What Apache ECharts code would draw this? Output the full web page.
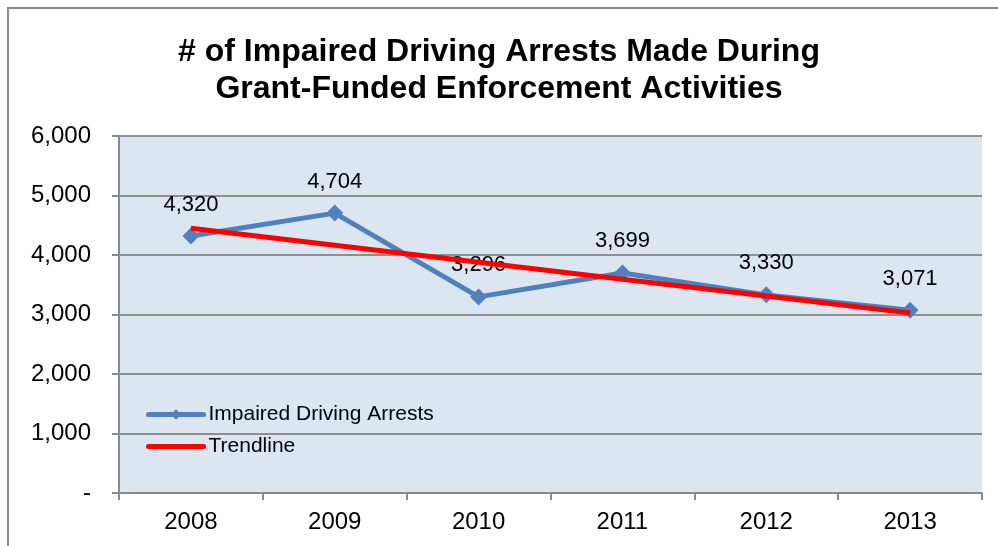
<!DOCTYPE html>
<html>
<head>
<meta charset="utf-8">
<script src="https://cdn.jsdelivr.net/npm/echarts@6/dist/echarts.min.js"></script>
<style>
  html, body { margin: 0; padding: 0; background: #fff; }
  #chart { width: 998px; height: 546px; }
</style>
</head>
<body>
<div id="chart"></div>
<script>
// Years on the category axis
const years = ['2008', '2009', '2010', '2011', '2012', '2013'];
// Impaired driving arrests per year
const arrests = [4320, 4704, 3296, 3699, 3330, 3071];
// Linear trend values at each year
const trend = [4448, 4164, 3879, 3594, 3310, 3025];
// Value axis ticks
const yTicks = [0, 1000, 2000, 3000, 4000, 5000, 6000];

const FONT = '"Liberation Sans", Arial, sans-serif';
const fmt = v => (v === 0 ? '-' : v.toLocaleString('en-US'));

const chart = echarts.init(document.getElementById('chart'), null, { renderer: 'canvas' });

chart.setOption({
  animation: false,
  backgroundColor: '#ffffff',
  textStyle: { fontFamily: FONT },
  graphic: [{
    type: 'rect',
    shape: { x: 8, y: 8, width: 1000, height: 560 },
    style: { fill: 'none', stroke: '#8a8a8a', lineWidth: 2 },
    silent: true,
    z: 100
  }],
  title: {
    text: '# of Impaired Driving Arrests Made During\nGrant-Funded Enforcement Activities',
    left: 'center',
    top: 29,
    textStyle: {
      fontFamily: FONT,
      fontSize: 32,
      fontWeight: 'bold',
      color: '#000',
      lineHeight: 37
    }
  },
  legend: {
    orient: 'vertical',
    left: 141,
    top: 399,
    itemWidth: 55,
    itemHeight: 13,
    itemGap: 11,
    lineStyle: { width: 5, cap: 'round' },
    textStyle: { fontFamily: FONT, fontSize: 21, color: '#000' },
    data: [
      { name: 'Impaired Driving Arrests' },
      { name: 'Trendline', itemStyle: { opacity: 0 } }
    ]
  },
  grid: {
    left: 119,
    right: 16,
    top: 136,
    bottom: 53,
    show: true,
    backgroundColor: '#dce6f1',
    borderWidth: 0
  },
  xAxis: {
    type: 'category',
    data: years,
    boundaryGap: true,
    axisLine: { show: true, lineStyle: { color: '#8a8a8a', width: 2 } },
    axisTick: { show: true, length: 7, lineStyle: { color: '#8a8a8a', width: 2 } },
    axisLabel: { fontFamily: FONT, fontSize: 24, color: '#000', margin: 17 },
    splitLine: { show: false }
  },
  yAxis: {
    type: 'value',
    min: yTicks[0],
    max: yTicks[yTicks.length - 1],
    interval: 1000,
    axisLine: { show: true, lineStyle: { color: '#8a8a8a', width: 2 } },
    axisTick: { show: true, length: 7, lineStyle: { color: '#8a8a8a', width: 2 } },
    axisLabel: { fontFamily: FONT, fontSize: 24, color: '#000', margin: 28, formatter: fmt },
    splitLine: { show: true, lineStyle: { color: '#8f8f8f', width: 2 } }
  },
  series: [
    {
      name: 'Impaired Driving Arrests',
      type: 'line',
      data: arrests,
      symbol: 'diamond',
      symbolSize: 17,
      lineStyle: { color: '#4f81bd', width: 5 },
      itemStyle: { color: '#4f81bd' },
      label: {
        show: true,
        position: 'top',
        distance: 12,
        fontFamily: FONT,
        fontSize: 22,
        color: '#000',
        formatter: p => fmt(p.value)
      },
      z: 2
    },
    {
      name: 'Trendline',
      type: 'line',
      data: trend,
      symbol: 'none',
      lineStyle: { color: '#ff0000', width: 5 },
      itemStyle: { color: '#ff0000' },
      z: 3
    }
  ]
});
</script>
</body>
</html>
